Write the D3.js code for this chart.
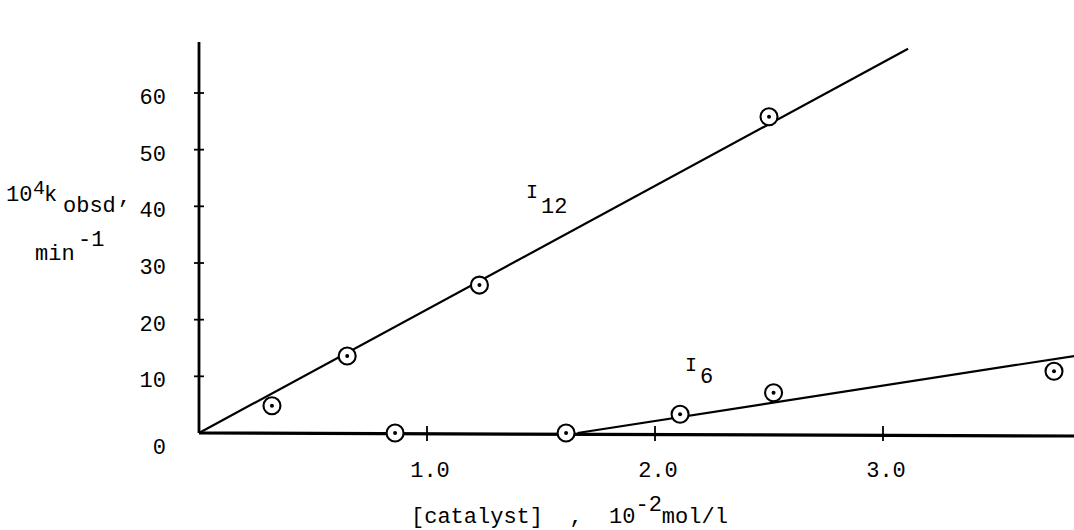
<!DOCTYPE html>
<html>
<head>
<meta charset="utf-8">
<script src="https://cdn.jsdelivr.net/npm/d3@7"></script>
<style>
  body { margin: 0; background: #fff; }
  text { font-family: "Liberation Mono", "DejaVu Sans Mono", monospace; fill: #000; }
</style>
</head>
<body>
<div id="wrapper"></div>
<script>
const w = 1074
const h = 530

// tick values
const xTicks = [1.0, 2.0, 3.0]
const yTicks = [0, 10, 20, 30, 40, 50, 60]

// I12 points and fitted line
const i12X = [0.32, 0.65, 1.23, 2.50]
const i12Y = [4.8, 13.6, 26.1, 55.8]
const i12FitX = [0, 3.11]
const i12FitY = [0, 67.8]

// I6 points and fitted line
const i6X = [0.86, 1.61, 2.11, 2.52, 3.75]
const i6Y = [0, 0, 3.3, 7.1, 10.9]
const i6FitX = [1.66, 3.84]
const i6FitY = [0, 13.6]

const x = d3.scaleLinear().domain([0, 3]).range([199, 883])
const y = d3.scaleLinear().domain([0, 60]).range([433, 93])

const svg = d3.select("#wrapper").append("svg")
  .attr("width", w)
  .attr("height", h)

// axes: thick typewriter-style lines
svg.append("line")
  .attr("x1", x(0)).attr("x2", x(0))
  .attr("y1", y(0)).attr("y2", 42)
  .attr("stroke", "#000").attr("stroke-width", 2.8)

svg.append("line")
  .attr("x1", x(0)).attr("x2", w)
  .attr("y1", y(0)).attr("y2", y(0) + 3)
  .attr("stroke", "#000").attr("stroke-width", 3.2)

// y ticks are small crosses on the axis
svg.selectAll(".ytick")
  .data(yTicks.filter(d => d > 0))
  .enter().append("line")
  .attr("class", "ytick")
  .attr("x1", x(0) - 5).attr("x2", x(0) + 5)
  .attr("y1", d => y(d)).attr("y2", d => y(d))
  .attr("stroke", "#000").attr("stroke-width", 1.8)

svg.selectAll(".ylabel")
  .data(yTicks)
  .enter().append("text")
  .attr("class", "ylabel")
  .attr("x", 166)
  .attr("y", d => y(d) + (d === 0 ? 21 : 11))
  .attr("text-anchor", "end")
  .style("font-size", "22px")
  .text(d => d)

svg.selectAll(".xtick")
  .data(xTicks)
  .enter().append("line")
  .attr("class", "xtick")
  .attr("x1", d => x(d)).attr("x2", d => x(d))
  .attr("y1", y(0) - 7).attr("y2", y(0) + 8)
  .attr("stroke", "#000").attr("stroke-width", 1.8)

svg.selectAll(".xlabel")
  .data(xTicks)
  .enter().append("text")
  .attr("class", "xlabel")
  .attr("x", d => x(d) + 3)
  .attr("y", 477)
  .attr("text-anchor", "middle")
  .style("font-size", "22px")
  .text(d => d.toFixed(1))

// fitted lines
const line = d3.line().x(d => x(d[0])).y(d => y(d[1]))

svg.append("path")
  .datum(d3.zip(i12FitX, i12FitY))
  .attr("d", line)
  .attr("fill", "none").attr("stroke", "#000").attr("stroke-width", 2.2)

svg.append("path")
  .datum(d3.zip(i6FitX, i6FitY))
  .attr("d", line)
  .attr("fill", "none").attr("stroke", "#000").attr("stroke-width", 2.2)

// circled-dot markers
const pts = d3.zip(i12X, i12Y).concat(d3.zip(i6X, i6Y))

const marks = svg.selectAll(".pt")
  .data(pts)
  .enter().append("g")
  .attr("class", "pt")
  .attr("transform", d => `translate(${x(d[0])},${y(d[1])})`)

marks.append("circle")
  .attr("r", 8.5)
  .attr("fill", "#fff")
  .attr("stroke", "#000").attr("stroke-width", 2.1)

marks.append("circle")
  .attr("r", 2)
  .attr("fill", "#000")

// series labels
const lab12 = svg.append("text").attr("x", 526).attr("y", 198).style("font-size", "20px")
lab12.append("tspan").text("I")
lab12.append("tspan").attr("x", 541).attr("y", 213).style("font-size", "22px").text("12")

const lab6 = svg.append("text").attr("x", 685).attr("y", 371).style("font-size", "20px")
lab6.append("tspan").text("I")
lab6.append("tspan").attr("x", 700).attr("y", 383).style("font-size", "22px").text("6")

// y axis title
const yt = svg.append("text").attr("x", 6).attr("y", 201).style("font-size", "22px")
yt.append("tspan").text("10")
yt.append("tspan").attr("x", 33).attr("y", 194).style("font-size", "20px").text("4")
yt.append("tspan").attr("x", 44).attr("y", 201).text("k")
yt.append("tspan").attr("x", 63).attr("y", 212).text("obsd")
yt.append("tspan").attr("x", 118).attr("y", 203).text(",")

const yt2 = svg.append("text").attr("x", 35).attr("y", 260).style("font-size", "22px")
yt2.append("tspan").text("min")
yt2.append("tspan").attr("x", 78).attr("y", 246).text("-1")

// x axis title
const xt = svg.append("text").attr("x", 411).attr("y", 523)
  .attr("xml:space", "preserve").style("font-size", "22px")
xt.append("tspan").text("[catalyst]  ,  10")
xt.append("tspan").attr("dy", -12).text("-2")
xt.append("tspan").attr("dy", 12).text("mol/l")
</script>
</body>
</html>
